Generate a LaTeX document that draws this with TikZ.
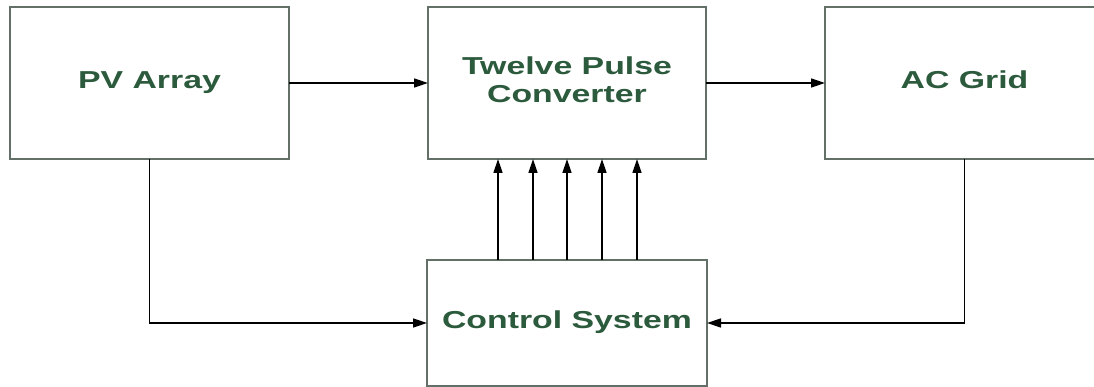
\documentclass[tikz,border=0pt]{standalone}
\usepackage{fontspec}
\setmainfont{Liberation Sans}
\usetikzlibrary{arrows.meta,calc}
\definecolor{txtgreen}{HTML}{2C5A3C}
\definecolor{boxgray}{HTML}{627068}
\newcommand{\blbl}[1]{\raisebox{-2.5pt}{\scalebox{1.38}[1]{\fontsize{24.5}{28.3}\selectfont\bfseries\begin{tabular}{@{}c@{}}#1\end{tabular}}}}
\begin{document}
\begin{tikzpicture}[x=1pt,y=-1pt,
  blk/.style={draw=boxgray,line width=1.8pt,fill=white,rectangle,inner sep=0pt,outer sep=0pt,
    minimum width=279pt,minimum height=152pt,text=txtgreen,align=center},
  arr/.style={draw=black,line width=1.5pt,-{Triangle[length=14pt,width=9pt]}}]
\useasboundingbox (0,0) rectangle (1094,387);
\clip (0,0) rectangle (1094,387);
\fill[white] (0,0) rectangle (1094,387);
\node[blk] (pv) at (149.5,83) {\blbl{PV Array}};
\node[blk,minimum width=278pt] (conv) at (567,83) {\blbl{Twelve Pulse\\Converter}};
\node[blk] (grid) at (964.5,83) {\blbl{AC Grid}};
\node[blk,minimum width=280pt,minimum height=126pt] (ctrl) at (567,323) {\blbl{Control System}};
\draw[arr] (pv.east) -- (conv.west);
\draw[arr] (conv.east) -- (grid.west);
\draw[arr] (pv.south) |- (ctrl.west);
\draw[arr] (grid.south) |- (ctrl.east);
\foreach \i/\xx in {1/498,2/533,3/567,4/602,5/637}{
  \coordinate (v\i) at (\xx,0);
  \draw[arr] (v\i |- ctrl.north) -- (v\i |- conv.south);
}
\end{tikzpicture}
\end{document}
